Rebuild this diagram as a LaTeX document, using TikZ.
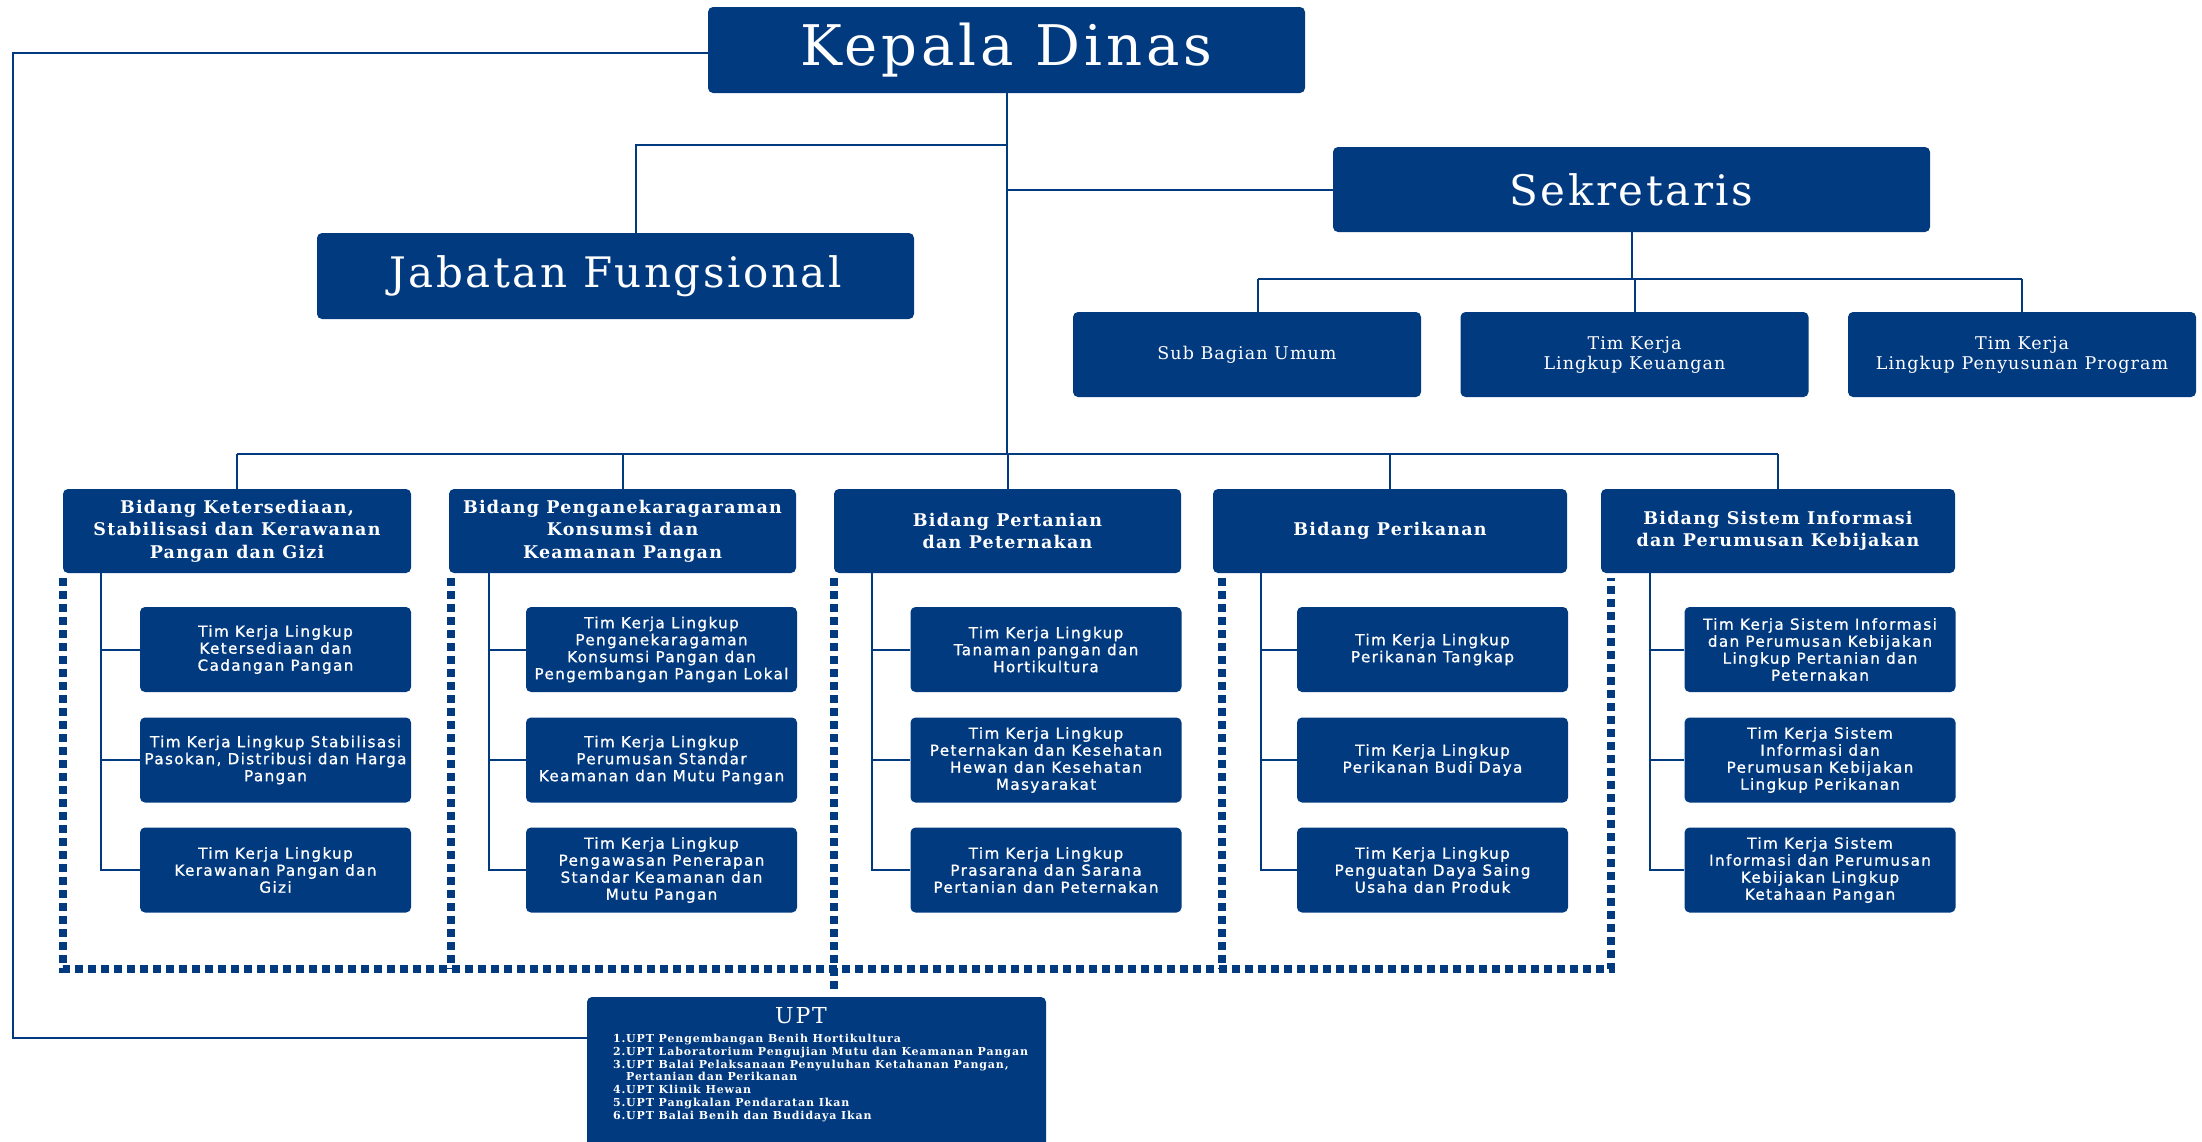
\documentclass[tikz,border=0pt]{standalone}
\usepackage{fontspec}
\setmainfont{DejaVu Serif}
\newfontfamily\kdfont{DejaVu Serif}[LetterSpace=7]
\newfontfamily\hdfont{DejaVu Serif}[LetterSpace=6]
\newfontfamily\bdfont{DejaVu Serif}[LetterSpace=7]
\newfontfamily\sbfont{DejaVu Serif}[LetterSpace=6]
\newfontfamily\tkfont{DejaVu Sans}[LetterSpace=9,FakeBold=1]
\newfontfamily\upfont{DejaVu Serif}[LetterSpace=8]
\definecolor{navy}{HTML}{023A80}
\tikzset{
  box/.style={fill=navy, rounded corners=5pt, inner sep=0pt, text=white, align=center},
  conn/.style={draw=navy, line width=2pt},
  dotline/.style={draw=navy, line width=8pt, dash pattern=on 8pt off 5pt},
  topbox/.style={box, minimum width=597pt, minimum height=86pt},
  subbox/.style={box, minimum width=348pt, minimum height=85pt, font=\sbfont\fontsize{17.5}{20}\selectfont},
  bidbox/.style={box, minimum height=84pt, font=\bdfont\bfseries\fontsize{17.5}{22.5}\selectfont},
  timbox/.style={box, minimum width=271pt, minimum height=85pt, font=\tkfont\fontsize{15.2}{17}\selectfont},
}
\begin{document}
\begin{tikzpicture}[x=1pt,y=-1pt]
\useasboundingbox (0,0) rectangle (2202,1141);
% top level
\node[topbox, font=\kdfont\fontsize{56}{64}\selectfont] (kd) at (1006.5,50) {Kepala Dinas};
\node[topbox, font=\hdfont\fontsize{42}{48}\selectfont] (jf) at (615.5,276) {Jabatan Fungsional};
\node[topbox, minimum height=85pt, font=\hdfont\fontsize{42}{48}\selectfont] (sk) at (1631.5,189.5) {Sekretaris};
% sekretariat
\node[subbox] (s1) at (1247,354.5) {Sub Bagian Umum};
\node[subbox] (s2) at (1634.5,354.5) {Tim Kerja\\Lingkup Keuangan};
\node[subbox] (s3) at (2022,354.5) {Tim Kerja\\Lingkup Penyusunan Program};
% bidang
\node[bidbox, minimum width=348pt] (b1) at (237,531) {Bidang Ketersediaan,\\Stabilisasi dan Kerawanan\\Pangan dan Gizi};
\node[bidbox, minimum width=347pt] (b2) at (622.5,531) {Bidang Penganekaragaraman\\Konsumsi dan\\Keamanan Pangan};
\node[bidbox, minimum width=347pt] (b3) at (1007.5,531) {Bidang Pertanian\\dan Peternakan};
\node[bidbox, minimum width=354pt] (b4) at (1390,531) {Bidang Perikanan};
\node[bidbox, minimum width=354pt] (b5) at (1778,531) {Bidang Sistem Informasi\\dan Perumusan Kebijakan};
% tim kerja
\node[timbox] (t11) at (275.5,649.5) {Tim Kerja Lingkup\\Ketersediaan dan\\Cadangan Pangan};
\node[timbox] (t12) at (275.5,760) {Tim Kerja Lingkup Stabilisasi\\Pasokan, Distribusi dan Harga\\Pangan};
\node[timbox] (t13) at (275.5,870) {Tim Kerja Lingkup\\Kerawanan Pangan dan\\Gizi};
\node[timbox] (t21) at (661.5,649.5) {Tim Kerja Lingkup\\Penganekaragaman\\Konsumsi Pangan dan\\Pengembangan Pangan Lokal};
\node[timbox] (t22) at (661.5,760) {Tim Kerja Lingkup\\Perumusan Standar\\Keamanan dan Mutu Pangan};
\node[timbox] (t23) at (661.5,870) {Tim Kerja Lingkup\\Pengawasan Penerapan\\Standar Keamanan dan\\Mutu Pangan};
\node[timbox] (t31) at (1046,649.5) {Tim Kerja Lingkup\\Tanaman pangan dan\\Hortikultura};
\node[timbox] (t32) at (1046,760) {Tim Kerja Lingkup\\Peternakan dan Kesehatan\\Hewan dan Kesehatan\\Masyarakat};
\node[timbox] (t33) at (1046,870) {Tim Kerja Lingkup\\Prasarana dan Sarana\\Pertanian dan Peternakan};
\node[timbox] (t41) at (1432.5,649.5) {Tim Kerja Lingkup\\Perikanan Tangkap};
\node[timbox] (t42) at (1432.5,760) {Tim Kerja Lingkup\\Perikanan Budi Daya};
\node[timbox] (t43) at (1432.5,870) {Tim Kerja Lingkup\\Penguatan Daya Saing\\Usaha dan Produk};
\node[timbox] (t51) at (1820,649.5) {Tim Kerja Sistem Informasi\\dan Perumusan Kebijakan\\Lingkup Pertanian dan\\Peternakan};
\node[timbox] (t52) at (1820,760) {Tim Kerja Sistem\\Informasi dan\\Perumusan Kebijakan\\Lingkup Perikanan};
\node[timbox] (t53) at (1820,870) {Tim Kerja Sistem\\Informasi dan Perumusan\\Kebijakan Lingkup\\Ketahaan Pangan};
% UPT
\node[box, minimum width=459pt, minimum height=150pt] (upt) at (816.5,1072) {};
\node[text=white, inner sep=0pt, font=\upfont\fontsize{22}{24}\selectfont] (uptt) at (801,1016) {UPT};
\node[anchor=north west, text=white, inner sep=0pt, align=left, font=\upfont\bfseries\fontsize{11}{12.8}\selectfont] (uptl) at (613,1034)
 {\makebox[13pt][l]{1.}UPT Pengembangan Benih Hortikultura\\
  \makebox[13pt][l]{2.}UPT Laboratorium Pengujian Mutu dan Keamanan Pangan\\
  \makebox[13pt][l]{3.}UPT Balai Pelaksanaan Penyuluhan Ketahanan Pangan,\\
  \makebox[13pt][l]{}Pertanian dan Perikanan\\
  \makebox[13pt][l]{4.}UPT Klinik Hewan\\
  \makebox[13pt][l]{5.}UPT Pangkalan Pendaratan Ikan\\
  \makebox[13pt][l]{6.}UPT Balai Benih dan Budidaya Ikan};
% connectors
\coordinate (lc) at (13,1038);
\draw[conn] ([yshift=-3pt]kd.west) -| (lc) -- (lc -| upt.west);
\coordinate (bus) at (1006.5,454);
\draw[conn] (kd.south) -- (bus);
\draw[conn] (b1.north |- bus) -- (b5.north |- bus);
\foreach \b in {b1,b2,b3,b4,b5} { \draw[conn] (\b.north |- bus) -- (\b.north); }
\coordinate (jb) at (1008,145);
\draw[conn] (jb) -| ([xshift=20pt]jf.north);
\coordinate (sb) at (1008,189.5);
\draw[conn] (sb) -- (sk.west);
\coordinate (sbus) at (1634,279);
\draw[conn] (sk.south) -- (sk.south |- sbus);
\draw[conn] ([xshift=11pt]s1.north |- sbus) -- (s3.north |- sbus);
\draw[conn] ([xshift=11pt]s1.north |- sbus) -- ([xshift=11pt]s1.north);
\draw[conn] (s2.north |- sbus) -- (s2.north);
\draw[conn] (s3.north |- sbus) -- (s3.north);
% trees
\foreach \b/\x in {1/101,2/489,3/872,4/1261,5/1650} {
  \coordinate (v\b) at (\x,573);
  \draw[conn] (v\b) |- (t\b3.west);
  \draw[conn] (v\b |- t\b1.west) -- (t\b1.west);
  \draw[conn] (v\b |- t\b2.west) -- (t\b2.west);
}
% dotted grouping
\coordinate (d1) at (63,578);
\coordinate (d2) at (451,578);
\coordinate (d3) at (834,578);
\coordinate (d4) at (1222,578);
\coordinate (d5) at (1611,578);
\coordinate (db) at (0,969);
\draw[dotline] (d1) -- (d1 |- db) -- (d5 |- db) -- (d5);
\draw[dotline] (d2) -- (d2 |- db);
\draw[dotline] (d3) -- ([yshift=-22pt]d3 |- db);
\draw[dotline] (d4) -- (d4 |- db);
\end{tikzpicture}
\end{document}
